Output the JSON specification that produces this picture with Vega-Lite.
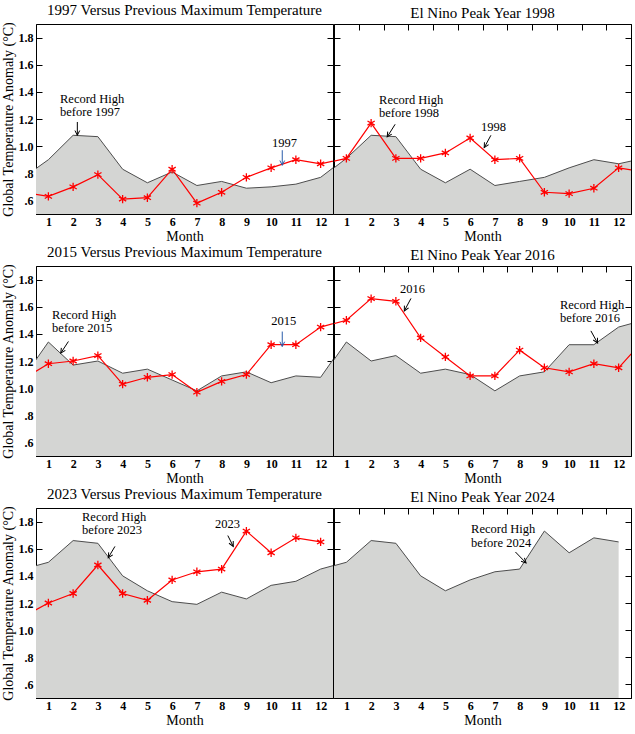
{
  "$schema": "https://vega.github.io/schema/vega-lite/v6.json",
  "padding": {"left": 0, "top": 2, "right": 0, "bottom": 0},
  "datasets": {
    "series": [
      {"panel":"1997","month":0,"record":0.77,"temp":0.66},
      {"panel":"1997","month":1,"record":0.90,"temp":0.63},
      {"panel":"1997","month":2,"record":1.08,"temp":0.70},
      {"panel":"1997","month":3,"record":1.07,"temp":0.79},
      {"panel":"1997","month":4,"record":0.83,"temp":0.61},
      {"panel":"1997","month":5,"record":0.73,"temp":0.62},
      {"panel":"1997","month":6,"record":0.81,"temp":0.83},
      {"panel":"1997","month":7,"record":0.71,"temp":0.58},
      {"panel":"1997","month":8,"record":0.74,"temp":0.66},
      {"panel":"1997","month":9,"record":0.69,"temp":0.77},
      {"panel":"1997","month":10,"record":0.70,"temp":0.84},
      {"panel":"1997","month":11,"record":0.72,"temp":0.90},
      {"panel":"1997","month":12,"record":0.77,"temp":0.87},
      {"panel":"1997","month":13,"record":0.91,"temp":0.91},
      {"panel":"1998","month":0,"record":0.77,"temp":0.87},
      {"panel":"1998","month":1,"record":0.91,"temp":0.91},
      {"panel":"1998","month":2,"record":1.08,"temp":1.17},
      {"panel":"1998","month":3,"record":1.07,"temp":0.91},
      {"panel":"1998","month":4,"record":0.83,"temp":0.91},
      {"panel":"1998","month":5,"record":0.73,"temp":0.95},
      {"panel":"1998","month":6,"record":0.83,"temp":1.06},
      {"panel":"1998","month":7,"record":0.71,"temp":0.90},
      {"panel":"1998","month":8,"record":0.74,"temp":0.91},
      {"panel":"1998","month":9,"record":0.77,"temp":0.66},
      {"panel":"1998","month":10,"record":0.84,"temp":0.65},
      {"panel":"1998","month":11,"record":0.90,"temp":0.69},
      {"panel":"1998","month":12,"record":0.87,"temp":0.84},
      {"panel":"1998","month":13,"record":0.91,"temp":0.81},
      {"panel":"2015","month":0,"record":1.08,"temp":1.07},
      {"panel":"2015","month":1,"record":1.34,"temp":1.18},
      {"panel":"2015","month":2,"record":1.17,"temp":1.20},
      {"panel":"2015","month":3,"record":1.20,"temp":1.24},
      {"panel":"2015","month":4,"record":1.11,"temp":1.03},
      {"panel":"2015","month":5,"record":1.14,"temp":1.08},
      {"panel":"2015","month":6,"record":1.06,"temp":1.10},
      {"panel":"2015","month":7,"record":0.98,"temp":0.97},
      {"panel":"2015","month":8,"record":1.09,"temp":1.05},
      {"panel":"2015","month":9,"record":1.12,"temp":1.10},
      {"panel":"2015","month":10,"record":1.04,"temp":1.32},
      {"panel":"2015","month":11,"record":1.09,"temp":1.32},
      {"panel":"2015","month":12,"record":1.08,"temp":1.45},
      {"panel":"2015","month":13,"record":1.34,"temp":1.50},
      {"panel":"2016","month":0,"record":1.08,"temp":1.45},
      {"panel":"2016","month":1,"record":1.34,"temp":1.50},
      {"panel":"2016","month":2,"record":1.20,"temp":1.66},
      {"panel":"2016","month":3,"record":1.24,"temp":1.64},
      {"panel":"2016","month":4,"record":1.11,"temp":1.37},
      {"panel":"2016","month":5,"record":1.14,"temp":1.23},
      {"panel":"2016","month":6,"record":1.10,"temp":1.09},
      {"panel":"2016","month":7,"record":0.98,"temp":1.09},
      {"panel":"2016","month":8,"record":1.09,"temp":1.28},
      {"panel":"2016","month":9,"record":1.12,"temp":1.15},
      {"panel":"2016","month":10,"record":1.32,"temp":1.12},
      {"panel":"2016","month":11,"record":1.32,"temp":1.18},
      {"panel":"2016","month":12,"record":1.45,"temp":1.15},
      {"panel":"2016","month":13,"record":1.50,"temp":1.35},
      {"panel":"2023","month":0,"record":1.45,"temp":1.10},
      {"panel":"2023","month":1,"record":1.50,"temp":1.20},
      {"panel":"2023","month":2,"record":1.66,"temp":1.27},
      {"panel":"2023","month":3,"record":1.64,"temp":1.48},
      {"panel":"2023","month":4,"record":1.40,"temp":1.27},
      {"panel":"2023","month":5,"record":1.29,"temp":1.22},
      {"panel":"2023","month":6,"record":1.21,"temp":1.37},
      {"panel":"2023","month":7,"record":1.19,"temp":1.43},
      {"panel":"2023","month":8,"record":1.28,"temp":1.45},
      {"panel":"2023","month":9,"record":1.23,"temp":1.73},
      {"panel":"2023","month":10,"record":1.33,"temp":1.57},
      {"panel":"2023","month":11,"record":1.36,"temp":1.68},
      {"panel":"2023","month":12,"record":1.45,"temp":1.65},
      {"panel":"2023","month":13,"record":1.50,"temp":null},
      {"panel":"2024","month":0,"record":1.45,"temp":null},
      {"panel":"2024","month":1,"record":1.50,"temp":null},
      {"panel":"2024","month":2,"record":1.66,"temp":null},
      {"panel":"2024","month":3,"record":1.64,"temp":null},
      {"panel":"2024","month":4,"record":1.40,"temp":null},
      {"panel":"2024","month":5,"record":1.29,"temp":null},
      {"panel":"2024","month":6,"record":1.37,"temp":null},
      {"panel":"2024","month":7,"record":1.43,"temp":null},
      {"panel":"2024","month":8,"record":1.45,"temp":null},
      {"panel":"2024","month":9,"record":1.73,"temp":null},
      {"panel":"2024","month":10,"record":1.57,"temp":null},
      {"panel":"2024","month":11,"record":1.68,"temp":null},
      {"panel":"2024","month":12,"record":1.65,"temp":null}
    ],
    "notes": [
      {"panel":"1997","month":1.47,"value":1.318,"text":"Record High\nbefore 1997"},
      {"panel":"1997","month":10.04,"value":0.997,"text":"1997"},
      {"panel":"1998","month":2.32,"value":1.313,"text":"Record High\nbefore 1998"},
      {"panel":"1998","month":6.44,"value":1.11,"text":"1998"},
      {"panel":"2015","month":1.15,"value":1.51,"text":"Record High\nbefore 2015"},
      {"panel":"2015","month":10.0,"value":1.468,"text":"2015"},
      {"panel":"2016","month":3.17,"value":1.702,"text":"2016"},
      {"panel":"2016","month":9.63,"value":1.585,"text":"Record High\nbefore 2016"},
      {"panel":"2023","month":2.36,"value":1.805,"text":"Record High\nbefore 2023"},
      {"panel":"2023","month":7.73,"value":1.754,"text":"2023"},
      {"panel":"2024","month":6.04,"value":1.715,"text":"Record High\nbefore 2024"}
    ],
    "arrows": [
      {"panel":"1997","id":"rec","month":2.17,"value":1.178,"month2":2.17,"value2":1.08},
      {"panel":"1997","id":"yr","month":10.45,"value":0.97,"month2":10.45,"value2":0.859},
      {"panel":"1998","id":"rec","month":2.97,"value":1.161,"month2":2.65,"value2":1.068},
      {"panel":"1998","id":"yr","month":6.84,"value":1.08,"month2":6.57,"value2":0.989},
      {"panel":"2015","id":"rec","month":1.81,"value":1.344,"month2":1.5,"value2":1.258},
      {"panel":"2015","id":"yr","month":10.45,"value":1.417,"month2":10.45,"value2":1.307},
      {"panel":"2016","id":"yr","month":3.61,"value":1.661,"month2":3.34,"value2":1.569},
      {"panel":"2016","id":"rec","month":10.88,"value":1.422,"month2":11.15,"value2":1.332},
      {"panel":"2023","id":"rec","month":3.69,"value":1.617,"month2":3.42,"value2":1.534},
      {"panel":"2023","id":"yr","month":8.25,"value":1.697,"month2":8.47,"value2":1.617},
      {"panel":"2024","id":"rec","month":7.83,"value":1.576,"month2":8.26,"value2":1.495}
    ]
  },
  "columns": 2,
  "align": "each",
  "spacing": {"row": 0, "column": -1},
  "concat": [
    {
      "width": 297, "height": 190,
      "title": "1997 Versus Previous Maximum Temperature",
      "layer": [
        {"data": {"name": "series"}, "transform": [{"filter": "datum.panel == '1997' && isValid(datum.record)"}],
         "mark": {"type": "area", "clip": true, "color": "#d4d5d3", "opacity": 1, "line": {"color": "#4d4d4d", "strokeWidth": 1}},
         "encoding": {
           "x": {"field": "month", "type": "quantitative", "scale": {"domain": [0.5, 12.5], "nice": false, "zero": false},
                 "axis": {"orient": "bottom", "values": [0.5,1.5,2.5,3.5,4.5,5.5,6.5,7.5,8.5,9.5,10.5,11.5], "labelExpr": "format(datum.value + 0.5, 'd')", "labelOffset": 12.375, "tickSize": -5, "labelPadding": 7, "title": "Month", "titlePadding": 2}},
           "y": {"field": "record", "type": "quantitative", "scale": {"domain": [0.5, 1.9], "nice": false, "zero": false},
                 "axis": {"orient": "left", "values": [0.6,0.8,1,1.2,1.4,1.6,1.8], "labelExpr": "datum.value >= 1 ? format(datum.value, '.1f') : replace(format(datum.value, '.1f'), '0.', '.')", "tickSize": -6, "labelPadding": 9, "title": "Global Temperature Anomaly (°C)", "titlePadding": 3}}
         }},
        {"data": {"name": "series"}, "transform": [{"filter": "datum.panel == '1997' && isValid(datum.temp)"}],
         "mark": {"type": "line", "clip": true, "color": "#ff0000", "strokeWidth": 1.2},
         "encoding": {
           "x": {"field": "month", "type": "quantitative", "scale": {"domain": [0.5, 12.5], "nice": false, "zero": false}, "axis": null},
           "y": {"field": "temp", "type": "quantitative", "scale": {"domain": [0.5, 1.9], "nice": false, "zero": false},
                 "axis": {"orient": "right", "values": [0.6,0.8,1,1.2,1.4,1.6,1.8], "labels": false, "tickSize": -6, "title": null}}
         }},
        {"data": {"name": "series"}, "transform": [{"filter": "datum.panel == '1997' && isValid(datum.temp) && datum.month >= 1 && datum.month <= 12"}],
         "mark": {"type": "point", "shape": "M0,-1L0,1M-0.866,-0.5L0.866,0.5M-0.866,0.5L0.866,-0.5", "size": 70, "filled": false, "color": "#ff0000", "strokeWidth": 1.3, "opacity": 1},
         "encoding": {
           "x": {"field": "month", "type": "quantitative", "scale": {"domain": [0.5, 12.5], "nice": false, "zero": false}, "axis": null},
           "y": {"field": "temp", "type": "quantitative", "scale": {"domain": [0.5, 1.9], "nice": false, "zero": false}, "axis": null}
         }},
        {"data": {"name": "notes"}, "transform": [{"filter": "datum.panel == '1997'"}],
         "mark": {"type": "text", "align": "left", "baseline": "alphabetic", "lineBreak": "\n", "lineHeight": 13.5, "fontSize": 12.5, "font": "Liberation Serif", "color": "black"},
         "encoding": {
           "x": {"field": "month", "type": "quantitative", "scale": {"domain": [0.5, 12.5], "nice": false, "zero": false}, "axis": null},
           "y": {"field": "value", "type": "quantitative", "scale": {"domain": [0.5, 1.9], "nice": false, "zero": false}, "axis": null},
           "text": {"field": "text"}
         }},
        {"data": {"name": "arrows"}, "transform": [{"filter": "datum.panel == '1997'"}],
         "mark": {"type": "rule", "strokeWidth": 1},
         "encoding": {
           "x": {"field": "month", "type": "quantitative", "scale": {"domain": [0.5, 12.5], "nice": false, "zero": false}, "axis": null},
           "y": {"field": "value", "type": "quantitative", "scale": {"domain": [0.5, 1.9], "nice": false, "zero": false}, "axis": null},
           "x2": {"field": "month2"}, "y2": {"field": "value2"},
           "color": {"condition": {"test": "datum.id == 'yr'", "value": "#2a5caa"}, "value": "black"}
         }},
        {"data": {"name": "arrows"}, "transform": [{"filter": "datum.panel == '1997'"}],
         "mark": {"type": "point", "shape": "M-0.5,-1L0,0L0.5,-1", "size": 90, "filled": false, "strokeWidth": 1, "opacity": 1},
         "encoding": {
           "x": {"field": "month2", "type": "quantitative", "scale": {"domain": [0.5, 12.5], "nice": false, "zero": false}, "axis": null},
           "y": {"field": "value2", "type": "quantitative", "scale": {"domain": [0.5, 1.9], "nice": false, "zero": false}, "axis": null},
           "color": {"condition": {"test": "datum.id == 'yr'", "value": "#2a5caa"}, "value": "black"},
           "angle": {"value": 0}
         }}
      ],
      "resolve": {"axis": {"x": "independent", "y": "independent"}}
    },
    {
      "width": 297, "height": 190,
      "title": "El Nino Peak Year 1998",
      "layer": [
        {"data": {"name": "series"}, "transform": [{"filter": "datum.panel == '1998' && isValid(datum.record)"}],
         "mark": {"type": "area", "clip": true, "color": "#d4d5d3", "opacity": 1, "line": {"color": "#4d4d4d", "strokeWidth": 1}},
         "encoding": {
           "x": {"field": "month", "type": "quantitative", "scale": {"domain": [0.5, 12.5], "nice": false, "zero": false},
                 "axis": {"orient": "bottom", "values": [0.5,1.5,2.5,3.5,4.5,5.5,6.5,7.5,8.5,9.5,10.5,11.5], "labelExpr": "format(datum.value + 0.5, 'd')", "labelOffset": 12.375, "tickSize": -5, "labelPadding": 7, "title": "Month", "titlePadding": 2}},
           "y": {"field": "record", "type": "quantitative", "scale": {"domain": [0.5, 1.9], "nice": false, "zero": false},
                 "axis": {"orient": "left", "values": [0.6,0.8,1,1.2,1.4,1.6,1.8], "labels": false, "tickSize": -6, "title": null}}
         }},
        {"data": {"name": "series"}, "transform": [{"filter": "datum.panel == '1998' && isValid(datum.temp)"}],
         "mark": {"type": "line", "clip": true, "color": "#ff0000", "strokeWidth": 1.2},
         "encoding": {
           "x": {"field": "month", "type": "quantitative", "scale": {"domain": [0.5, 12.5], "nice": false, "zero": false},
                 "axis": {"orient": "top", "values": [1.5,2.5,3.5,4.5,5.5,6.5,7.5,8.5,9.5,10.5,11.5], "labels": false, "tickSize": -6, "title": null}},
           "y": {"field": "temp", "type": "quantitative", "scale": {"domain": [0.5, 1.9], "nice": false, "zero": false},
                 "axis": {"orient": "right", "values": [0.6,0.8,1,1.2,1.4,1.6,1.8], "labels": false, "tickSize": -6, "title": null}}
         }},
        {"data": {"name": "series"}, "transform": [{"filter": "datum.panel == '1998' && isValid(datum.temp) && datum.month >= 1 && datum.month <= 12"}],
         "mark": {"type": "point", "shape": "M0,-1L0,1M-0.866,-0.5L0.866,0.5M-0.866,0.5L0.866,-0.5", "size": 70, "filled": false, "color": "#ff0000", "strokeWidth": 1.3, "opacity": 1},
         "encoding": {
           "x": {"field": "month", "type": "quantitative", "scale": {"domain": [0.5, 12.5], "nice": false, "zero": false}, "axis": null},
           "y": {"field": "temp", "type": "quantitative", "scale": {"domain": [0.5, 1.9], "nice": false, "zero": false}, "axis": null}
         }},
        {"data": {"name": "notes"}, "transform": [{"filter": "datum.panel == '1998'"}],
         "mark": {"type": "text", "align": "left", "baseline": "alphabetic", "lineBreak": "\n", "lineHeight": 13.5, "fontSize": 12.5, "font": "Liberation Serif", "color": "black"},
         "encoding": {
           "x": {"field": "month", "type": "quantitative", "scale": {"domain": [0.5, 12.5], "nice": false, "zero": false}, "axis": null},
           "y": {"field": "value", "type": "quantitative", "scale": {"domain": [0.5, 1.9], "nice": false, "zero": false}, "axis": null},
           "text": {"field": "text"}
         }},
        {"data": {"name": "arrows"}, "transform": [{"filter": "datum.panel == '1998'"}],
         "mark": {"type": "rule", "strokeWidth": 1, "color": "black"},
         "encoding": {
           "x": {"field": "month", "type": "quantitative", "scale": {"domain": [0.5, 12.5], "nice": false, "zero": false}, "axis": null},
           "y": {"field": "value", "type": "quantitative", "scale": {"domain": [0.5, 1.9], "nice": false, "zero": false}, "axis": null},
           "x2": {"field": "month2"}, "y2": {"field": "value2"}
         }},
        {"data": {"name": "arrows"}, "transform": [{"filter": "datum.panel == '1998'"}],
         "mark": {"type": "point", "shape": "M-0.5,-1L0,0L0.5,-1", "size": 90, "filled": false, "strokeWidth": 1, "opacity": 1, "color": "black"},
         "encoding": {
           "x": {"field": "month2", "type": "quantitative", "scale": {"domain": [0.5, 12.5], "nice": false, "zero": false}, "axis": null},
           "y": {"field": "value2", "type": "quantitative", "scale": {"domain": [0.5, 1.9], "nice": false, "zero": false}, "axis": null},
           "angle": {"condition": {"test": "datum.id == 'rec'", "value": 32}, "value": 29}
         }}
      ],
      "resolve": {"axis": {"x": "independent", "y": "independent"}}
    },
    {
      "width": 297, "height": 190,
      "title": "2015 Versus Previous Maximum Temperature",
      "layer": [
        {"data": {"name": "series"}, "transform": [{"filter": "datum.panel == '2015' && isValid(datum.record)"}],
         "mark": {"type": "area", "clip": true, "color": "#d4d5d3", "opacity": 1, "line": {"color": "#4d4d4d", "strokeWidth": 1}},
         "encoding": {
           "x": {"field": "month", "type": "quantitative", "scale": {"domain": [0.5, 12.5], "nice": false, "zero": false},
                 "axis": {"orient": "bottom", "values": [0.5,1.5,2.5,3.5,4.5,5.5,6.5,7.5,8.5,9.5,10.5,11.5], "labelExpr": "format(datum.value + 0.5, 'd')", "labelOffset": 12.375, "tickSize": -5, "labelPadding": 7, "title": "Month", "titlePadding": 2}},
           "y": {"field": "record", "type": "quantitative", "scale": {"domain": [0.5, 1.9], "nice": false, "zero": false},
                 "axis": {"orient": "left", "values": [0.6,0.8,1,1.2,1.4,1.6,1.8], "labelExpr": "datum.value >= 1 ? format(datum.value, '.1f') : replace(format(datum.value, '.1f'), '0.', '.')", "tickSize": -6, "labelPadding": 9, "title": "Global Temperature Anomaly (°C)", "titlePadding": 3}}
         }},
        {"data": {"name": "series"}, "transform": [{"filter": "datum.panel == '2015' && isValid(datum.temp)"}],
         "mark": {"type": "line", "clip": true, "color": "#ff0000", "strokeWidth": 1.2},
         "encoding": {
           "x": {"field": "month", "type": "quantitative", "scale": {"domain": [0.5, 12.5], "nice": false, "zero": false}, "axis": null},
           "y": {"field": "temp", "type": "quantitative", "scale": {"domain": [0.5, 1.9], "nice": false, "zero": false},
                 "axis": {"orient": "right", "values": [0.6,0.8,1,1.2,1.4,1.6,1.8], "labels": false, "tickSize": -6, "title": null}}
         }},
        {"data": {"name": "series"}, "transform": [{"filter": "datum.panel == '2015' && isValid(datum.temp) && datum.month >= 1 && datum.month <= 12"}],
         "mark": {"type": "point", "shape": "M0,-1L0,1M-0.866,-0.5L0.866,0.5M-0.866,0.5L0.866,-0.5", "size": 70, "filled": false, "color": "#ff0000", "strokeWidth": 1.3, "opacity": 1},
         "encoding": {
           "x": {"field": "month", "type": "quantitative", "scale": {"domain": [0.5, 12.5], "nice": false, "zero": false}, "axis": null},
           "y": {"field": "temp", "type": "quantitative", "scale": {"domain": [0.5, 1.9], "nice": false, "zero": false}, "axis": null}
         }},
        {"data": {"name": "notes"}, "transform": [{"filter": "datum.panel == '2015'"}],
         "mark": {"type": "text", "align": "left", "baseline": "alphabetic", "lineBreak": "\n", "lineHeight": 13.5, "fontSize": 12.5, "font": "Liberation Serif", "color": "black"},
         "encoding": {
           "x": {"field": "month", "type": "quantitative", "scale": {"domain": [0.5, 12.5], "nice": false, "zero": false}, "axis": null},
           "y": {"field": "value", "type": "quantitative", "scale": {"domain": [0.5, 1.9], "nice": false, "zero": false}, "axis": null},
           "text": {"field": "text"}
         }},
        {"data": {"name": "arrows"}, "transform": [{"filter": "datum.panel == '2015'"}],
         "mark": {"type": "rule", "strokeWidth": 1},
         "encoding": {
           "x": {"field": "month", "type": "quantitative", "scale": {"domain": [0.5, 12.5], "nice": false, "zero": false}, "axis": null},
           "y": {"field": "value", "type": "quantitative", "scale": {"domain": [0.5, 1.9], "nice": false, "zero": false}, "axis": null},
           "x2": {"field": "month2"}, "y2": {"field": "value2"},
           "color": {"condition": {"test": "datum.id == 'yr'", "value": "#2a5caa"}, "value": "black"}
         }},
        {"data": {"name": "arrows"}, "transform": [{"filter": "datum.panel == '2015'"}],
         "mark": {"type": "point", "shape": "M-0.5,-1L0,0L0.5,-1", "size": 90, "filled": false, "strokeWidth": 1, "opacity": 1},
         "encoding": {
           "x": {"field": "month2", "type": "quantitative", "scale": {"domain": [0.5, 12.5], "nice": false, "zero": false}, "axis": null},
           "y": {"field": "value2", "type": "quantitative", "scale": {"domain": [0.5, 1.9], "nice": false, "zero": false}, "axis": null},
           "color": {"condition": {"test": "datum.id == 'yr'", "value": "#2a5caa"}, "value": "black"},
           "angle": {"condition": {"test": "datum.id == 'rec'", "value": 33}, "value": 0}
         }}
      ],
      "resolve": {"axis": {"x": "independent", "y": "independent"}}
    },
    {
      "width": 297, "height": 190,
      "title": "El Nino Peak Year 2016",
      "layer": [
        {"data": {"name": "series"}, "transform": [{"filter": "datum.panel == '2016' && isValid(datum.record)"}],
         "mark": {"type": "area", "clip": true, "color": "#d4d5d3", "opacity": 1, "line": {"color": "#4d4d4d", "strokeWidth": 1}},
         "encoding": {
           "x": {"field": "month", "type": "quantitative", "scale": {"domain": [0.5, 12.5], "nice": false, "zero": false},
                 "axis": {"orient": "bottom", "values": [0.5,1.5,2.5,3.5,4.5,5.5,6.5,7.5,8.5,9.5,10.5,11.5], "labelExpr": "format(datum.value + 0.5, 'd')", "labelOffset": 12.375, "tickSize": -5, "labelPadding": 7, "title": "Month", "titlePadding": 2}},
           "y": {"field": "record", "type": "quantitative", "scale": {"domain": [0.5, 1.9], "nice": false, "zero": false},
                 "axis": {"orient": "left", "values": [0.6,0.8,1,1.2,1.4,1.6,1.8], "labels": false, "tickSize": -6, "title": null}}
         }},
        {"data": {"name": "series"}, "transform": [{"filter": "datum.panel == '2016' && isValid(datum.temp)"}],
         "mark": {"type": "line", "clip": true, "color": "#ff0000", "strokeWidth": 1.2},
         "encoding": {
           "x": {"field": "month", "type": "quantitative", "scale": {"domain": [0.5, 12.5], "nice": false, "zero": false},
                 "axis": {"orient": "top", "values": [1.5,2.5,3.5,4.5,5.5,6.5,7.5,8.5,9.5,10.5,11.5], "labels": false, "tickSize": -6, "title": null}},
           "y": {"field": "temp", "type": "quantitative", "scale": {"domain": [0.5, 1.9], "nice": false, "zero": false},
                 "axis": {"orient": "right", "values": [0.6,0.8,1,1.2,1.4,1.6,1.8], "labels": false, "tickSize": -6, "title": null}}
         }},
        {"data": {"name": "series"}, "transform": [{"filter": "datum.panel == '2016' && isValid(datum.temp) && datum.month >= 1 && datum.month <= 12"}],
         "mark": {"type": "point", "shape": "M0,-1L0,1M-0.866,-0.5L0.866,0.5M-0.866,0.5L0.866,-0.5", "size": 70, "filled": false, "color": "#ff0000", "strokeWidth": 1.3, "opacity": 1},
         "encoding": {
           "x": {"field": "month", "type": "quantitative", "scale": {"domain": [0.5, 12.5], "nice": false, "zero": false}, "axis": null},
           "y": {"field": "temp", "type": "quantitative", "scale": {"domain": [0.5, 1.9], "nice": false, "zero": false}, "axis": null}
         }},
        {"data": {"name": "notes"}, "transform": [{"filter": "datum.panel == '2016'"}],
         "mark": {"type": "text", "align": "left", "baseline": "alphabetic", "lineBreak": "\n", "lineHeight": 13.5, "fontSize": 12.5, "font": "Liberation Serif", "color": "black"},
         "encoding": {
           "x": {"field": "month", "type": "quantitative", "scale": {"domain": [0.5, 12.5], "nice": false, "zero": false}, "axis": null},
           "y": {"field": "value", "type": "quantitative", "scale": {"domain": [0.5, 1.9], "nice": false, "zero": false}, "axis": null},
           "text": {"field": "text"}
         }},
        {"data": {"name": "arrows"}, "transform": [{"filter": "datum.panel == '2016'"}],
         "mark": {"type": "rule", "strokeWidth": 1, "color": "black"},
         "encoding": {
           "x": {"field": "month", "type": "quantitative", "scale": {"domain": [0.5, 12.5], "nice": false, "zero": false}, "axis": null},
           "y": {"field": "value", "type": "quantitative", "scale": {"domain": [0.5, 1.9], "nice": false, "zero": false}, "axis": null},
           "x2": {"field": "month2"}, "y2": {"field": "value2"}
         }},
        {"data": {"name": "arrows"}, "transform": [{"filter": "datum.panel == '2016'"}],
         "mark": {"type": "point", "shape": "M-0.5,-1L0,0L0.5,-1", "size": 90, "filled": false, "strokeWidth": 1, "opacity": 1, "color": "black"},
         "encoding": {
           "x": {"field": "month2", "type": "quantitative", "scale": {"domain": [0.5, 12.5], "nice": false, "zero": false}, "axis": null},
           "y": {"field": "value2", "type": "quantitative", "scale": {"domain": [0.5, 1.9], "nice": false, "zero": false}, "axis": null},
           "angle": {"condition": {"test": "datum.id == 'rec'", "value": -28}, "value": 28}
         }}
      ],
      "resolve": {"axis": {"x": "independent", "y": "independent"}}
    },
    {
      "width": 297, "height": 190,
      "title": "2023 Versus Previous Maximum Temperature",
      "layer": [
        {"data": {"name": "series"}, "transform": [{"filter": "datum.panel == '2023' && isValid(datum.record)"}],
         "mark": {"type": "area", "clip": true, "color": "#d4d5d3", "opacity": 1, "line": {"color": "#4d4d4d", "strokeWidth": 1}},
         "encoding": {
           "x": {"field": "month", "type": "quantitative", "scale": {"domain": [0.5, 12.5], "nice": false, "zero": false},
                 "axis": {"orient": "bottom", "values": [0.5,1.5,2.5,3.5,4.5,5.5,6.5,7.5,8.5,9.5,10.5,11.5], "labelExpr": "format(datum.value + 0.5, 'd')", "labelOffset": 12.375, "tickSize": -5, "labelPadding": 7, "title": "Month", "titlePadding": 2}},
           "y": {"field": "record", "type": "quantitative", "scale": {"domain": [0.5, 1.9], "nice": false, "zero": false},
                 "axis": {"orient": "left", "values": [0.6,0.8,1,1.2,1.4,1.6,1.8], "labelExpr": "datum.value >= 1 ? format(datum.value, '.1f') : replace(format(datum.value, '.1f'), '0.', '.')", "tickSize": -6, "labelPadding": 9, "title": "Global Temperature Anomaly (°C)", "titlePadding": 3}}
         }},
        {"data": {"name": "series"}, "transform": [{"filter": "datum.panel == '2023' && isValid(datum.temp)"}],
         "mark": {"type": "line", "clip": true, "color": "#ff0000", "strokeWidth": 1.2},
         "encoding": {
           "x": {"field": "month", "type": "quantitative", "scale": {"domain": [0.5, 12.5], "nice": false, "zero": false}, "axis": null},
           "y": {"field": "temp", "type": "quantitative", "scale": {"domain": [0.5, 1.9], "nice": false, "zero": false},
                 "axis": {"orient": "right", "values": [0.6,0.8,1,1.2,1.4,1.6,1.8], "labels": false, "tickSize": -6, "title": null}}
         }},
        {"data": {"name": "series"}, "transform": [{"filter": "datum.panel == '2023' && isValid(datum.temp) && datum.month >= 1 && datum.month <= 12"}],
         "mark": {"type": "point", "shape": "M0,-1L0,1M-0.866,-0.5L0.866,0.5M-0.866,0.5L0.866,-0.5", "size": 70, "filled": false, "color": "#ff0000", "strokeWidth": 1.3, "opacity": 1},
         "encoding": {
           "x": {"field": "month", "type": "quantitative", "scale": {"domain": [0.5, 12.5], "nice": false, "zero": false}, "axis": null},
           "y": {"field": "temp", "type": "quantitative", "scale": {"domain": [0.5, 1.9], "nice": false, "zero": false}, "axis": null}
         }},
        {"data": {"name": "notes"}, "transform": [{"filter": "datum.panel == '2023'"}],
         "mark": {"type": "text", "align": "left", "baseline": "alphabetic", "lineBreak": "\n", "lineHeight": 13.5, "fontSize": 12.5, "font": "Liberation Serif", "color": "black"},
         "encoding": {
           "x": {"field": "month", "type": "quantitative", "scale": {"domain": [0.5, 12.5], "nice": false, "zero": false}, "axis": null},
           "y": {"field": "value", "type": "quantitative", "scale": {"domain": [0.5, 1.9], "nice": false, "zero": false}, "axis": null},
           "text": {"field": "text"}
         }},
        {"data": {"name": "arrows"}, "transform": [{"filter": "datum.panel == '2023'"}],
         "mark": {"type": "rule", "strokeWidth": 1, "color": "black"},
         "encoding": {
           "x": {"field": "month", "type": "quantitative", "scale": {"domain": [0.5, 12.5], "nice": false, "zero": false}, "axis": null},
           "y": {"field": "value", "type": "quantitative", "scale": {"domain": [0.5, 1.9], "nice": false, "zero": false}, "axis": null},
           "x2": {"field": "month2"}, "y2": {"field": "value2"}
         }},
        {"data": {"name": "arrows"}, "transform": [{"filter": "datum.panel == '2023'"}],
         "mark": {"type": "point", "shape": "M-0.5,-1L0,0L0.5,-1", "size": 90, "filled": false, "strokeWidth": 1, "opacity": 1, "color": "black"},
         "encoding": {
           "x": {"field": "month2", "type": "quantitative", "scale": {"domain": [0.5, 12.5], "nice": false, "zero": false}, "axis": null},
           "y": {"field": "value2", "type": "quantitative", "scale": {"domain": [0.5, 1.9], "nice": false, "zero": false}, "axis": null},
           "angle": {"condition": {"test": "datum.id == 'rec'", "value": 31}, "value": -27}
         }}
      ],
      "resolve": {"axis": {"x": "independent", "y": "independent"}}
    },
    {
      "width": 297, "height": 190,
      "title": "El Nino Peak Year 2024",
      "layer": [
        {"data": {"name": "series"}, "transform": [{"filter": "datum.panel == '2024' && isValid(datum.record)"}],
         "mark": {"type": "area", "clip": true, "color": "#d4d5d3", "opacity": 1, "line": {"color": "#4d4d4d", "strokeWidth": 1}},
         "encoding": {
           "x": {"field": "month", "type": "quantitative", "scale": {"domain": [0.5, 12.5], "nice": false, "zero": false},
                 "axis": {"orient": "bottom", "values": [0.5,1.5,2.5,3.5,4.5,5.5,6.5,7.5,8.5,9.5,10.5,11.5], "labelExpr": "format(datum.value + 0.5, 'd')", "labelOffset": 12.375, "tickSize": -5, "labelPadding": 7, "title": "Month", "titlePadding": 2}},
           "y": {"field": "record", "type": "quantitative", "scale": {"domain": [0.5, 1.9], "nice": false, "zero": false},
                 "axis": {"orient": "left", "values": [0.6,0.8,1,1.2,1.4,1.6,1.8], "labels": false, "tickSize": -6, "title": null}}
         }},
        {"data": {"name": "series"}, "transform": [{"filter": "datum.panel == '2024' && isValid(datum.temp)"}],
         "mark": {"type": "line", "clip": true, "color": "#ff0000", "strokeWidth": 1.2},
         "encoding": {
           "x": {"field": "month", "type": "quantitative", "scale": {"domain": [0.5, 12.5], "nice": false, "zero": false},
                 "axis": {"orient": "top", "values": [1.5,2.5,3.5,4.5,5.5,6.5,7.5,8.5,9.5,10.5,11.5], "labels": false, "tickSize": -6, "title": null}},
           "y": {"field": "temp", "type": "quantitative", "scale": {"domain": [0.5, 1.9], "nice": false, "zero": false},
                 "axis": {"orient": "right", "values": [0.6,0.8,1,1.2,1.4,1.6,1.8], "labels": false, "tickSize": -6, "title": null}}
         }},
        {"data": {"name": "notes"}, "transform": [{"filter": "datum.panel == '2024'"}],
         "mark": {"type": "text", "align": "left", "baseline": "alphabetic", "lineBreak": "\n", "lineHeight": 13.5, "fontSize": 12.5, "font": "Liberation Serif", "color": "black"},
         "encoding": {
           "x": {"field": "month", "type": "quantitative", "scale": {"domain": [0.5, 12.5], "nice": false, "zero": false}, "axis": null},
           "y": {"field": "value", "type": "quantitative", "scale": {"domain": [0.5, 1.9], "nice": false, "zero": false}, "axis": null},
           "text": {"field": "text"}
         }},
        {"data": {"name": "arrows"}, "transform": [{"filter": "datum.panel == '2024'"}],
         "mark": {"type": "rule", "strokeWidth": 1, "color": "black"},
         "encoding": {
           "x": {"field": "month", "type": "quantitative", "scale": {"domain": [0.5, 12.5], "nice": false, "zero": false}, "axis": null},
           "y": {"field": "value", "type": "quantitative", "scale": {"domain": [0.5, 1.9], "nice": false, "zero": false}, "axis": null},
           "x2": {"field": "month2"}, "y2": {"field": "value2"}
         }},
        {"data": {"name": "arrows"}, "transform": [{"filter": "datum.panel == '2024'"}],
         "mark": {"type": "point", "shape": "M-0.5,-1L0,0L0.5,-1", "size": 90, "filled": false, "strokeWidth": 1, "opacity": 1, "color": "black"},
         "encoding": {
           "x": {"field": "month2", "type": "quantitative", "scale": {"domain": [0.5, 12.5], "nice": false, "zero": false}, "axis": null},
           "y": {"field": "value2", "type": "quantitative", "scale": {"domain": [0.5, 1.9], "nice": false, "zero": false}, "axis": null},
           "angle": {"value": -44}
         }}
      ],
      "resolve": {"axis": {"x": "independent", "y": "independent"}}
    }
  ],
  "config": {
    "font": "Liberation Serif",
    "view": {"stroke": "black", "strokeWidth": 1},
    "axis": {
      "zindex": 1, "grid": false,
      "labelFont": "Liberation Serif", "labelFontSize": 12, "labelFontWeight": "bold", "labelColor": "black",
      "titleFont": "Liberation Serif", "titleFontSize": 14, "titleFontWeight": "normal", "titleColor": "black",
      "tickColor": "black", "tickWidth": 1, "domainColor": "black", "domainWidth": 1,
      "labelFlush": false, "labelOverlap": false
    },
    "title": {"font": "Liberation Serif", "fontSize": 15, "fontWeight": "normal", "color": "black", "offset": 3, "anchor": "middle"}
  }
}
